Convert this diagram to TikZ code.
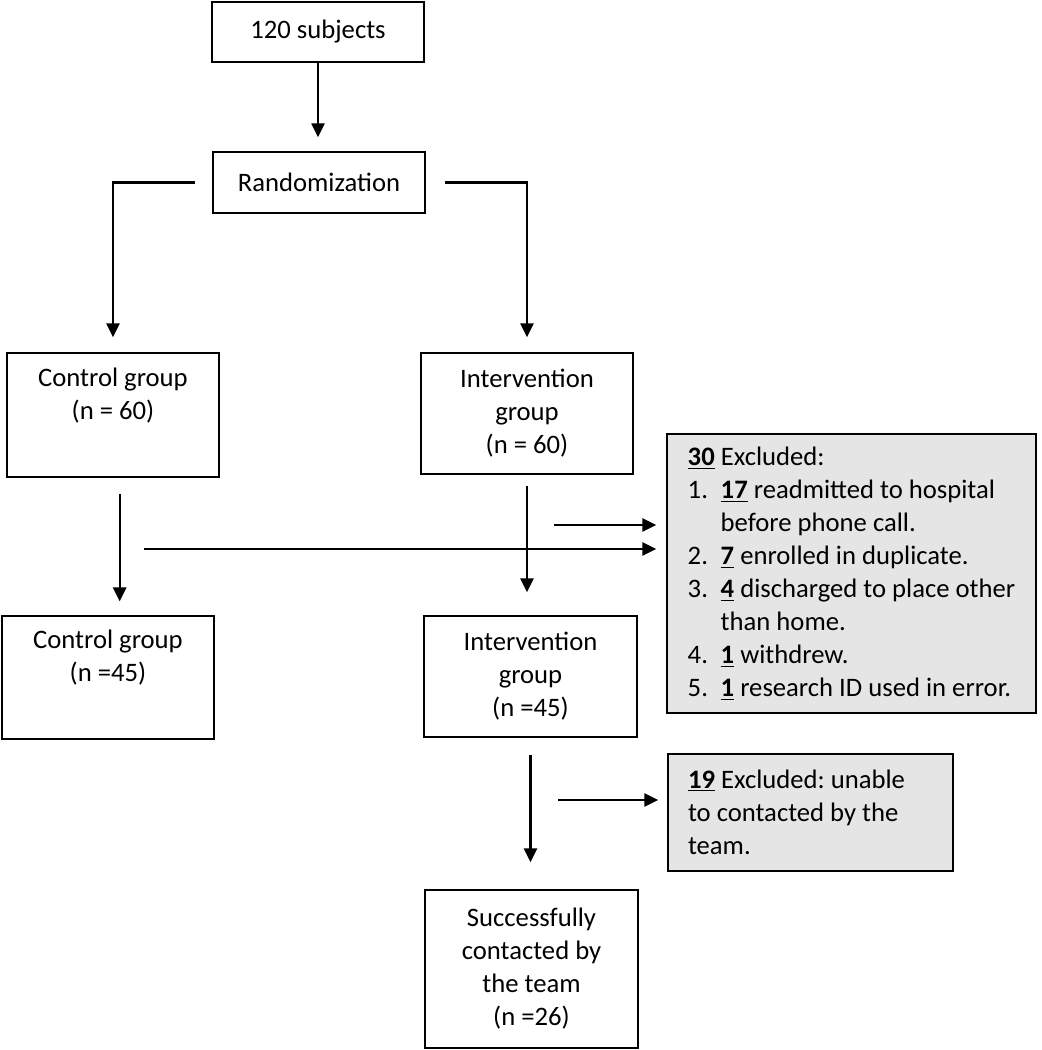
\documentclass[tikz,border=0pt]{standalone}
\usepackage{fontspec}
\setmainfont{Carlito}
\frenchspacing
\usepackage{tikz}
\usetikzlibrary{arrows.meta, positioning}
\tikzset{->,>={Triangle[length=10.5pt,width=10pt]},
every node/.style={font=\fontsize{20}{24.75}\selectfont},
grp/.style={draw, line width=1.1pt, align=center, minimum width=159pt, inner sep=0pt},
excl/.style={draw, line width=1.1pt, fill=gray!20, align=flush left, inner xsep=15pt, inner ysep=0pt},
}
\newcommand{\nmb}[1]{\underline{\textbf{#1}}}
\newcommand{\itm}[1]{\makebox[24.75pt][l]{#1}}

\begin{document}
\begin{tikzpicture}[x=0.75pt, y=-0.75pt, line width=1.6pt]
    \useasboundingbox (0,0) rectangle (1042,1050);
        \node[grp, minimum height=45pt] (subj) at (318,32) {120 subjects};
        \node[grp, minimum height=45.75pt] (rand) at (319,182.5) {Randomization};
        \node[grp, minimum height=93pt, text depth=32pt] (ctrlA) at (113,415) {Control group\\(n = 60)};
        \node[grp, minimum height=90.75pt] (intA) at (527,413.5) {Intervention\\group\\(n = 60)};
        \node[excl, minimum width=276.75pt, minimum height=209.25pt] (exclA) at (851.5,573.5) {\nmb{30} Excluded:\\
            \itm{1.}\nmb{17} readmitted to hospital\\
            \itm{}before phone call.\\
            \itm{2.}\nmb{7} enrolled in duplicate.\\
            \itm{3.}\nmb{4} discharged to place other\\
            \itm{}than home.\\
            \itm{4.}\nmb{1} withdrew.\\
            \itm{5.}\nmb{1} research ID used in error.};
        \node[grp, minimum height=92.25pt, text depth=32pt] (ctrlB) at (108,677.5) {Control group\\(n =45)};
        \node[grp, minimum width=159.75pt, minimum height=90.75pt] (intB) at (530.5,676.5) {Intervention\\group\\(n =45)};
        \node[excl, text width=183.75pt, minimum height=87.75pt] (exclB) at (810.5,812.5) {\nmb{19} Excluded: unable\\to contacted by the\\team.};
        \node[grp, minimum width=159.75pt, minimum height=118.5pt] (succ) at (531.5,969) {Successfully\\contacted by\\the team\\(n =26)};
        \coordinate (fromInt) at (554,525);
        \coordinate (fromCtrl) at (144,549);
        \coordinate (fromIntB) at (558,800);
        \draw[line width=1.1pt, shorten >=10.5pt] (subj.south) -- (subj.south |- rand.north);
        \draw[shorten <=12.75pt, shorten >=11.25pt] (rand.west) -| (ctrlA.north);
        \draw[shorten <=14.25pt, shorten >=11.25pt] (rand.east) -| (intA.north);
        \draw[shorten <=12pt, shorten >=10.5pt] ([xshift=5pt]ctrlA.south) -- ([xshift=5pt]ctrlA.south |- ctrlB.north);
        \draw[shorten <=8.25pt, shorten >=17.25pt] (intA.south) -- (intA.south |- intB.north);
        \draw[shorten >=7.5pt] (fromInt) -- (fromInt -| exclA.west);
        \draw[shorten >=7.5pt] (fromCtrl) -- (fromCtrl -| exclA.west);
        \draw[shorten <=12.75pt, shorten >=20.25pt] (intB.south) -- (intB.south |- succ.north);
        \draw[shorten >=6.75pt] (fromIntB) -- (fromIntB -| exclB.west);
    \end{tikzpicture}
\end{document}
